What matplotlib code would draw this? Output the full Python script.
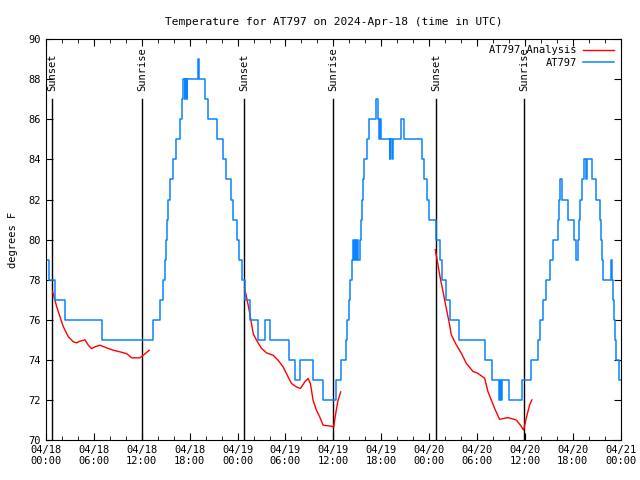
import matplotlib
matplotlib.use('Agg')
import matplotlib.pyplot as plt
import matplotlib.dates as mdates
import pandas as pd

start = pd.Timestamp('2024-04-18 00:00')

# observed temperature (hours since start, degrees F), steps at change points
obs_hours = [0.0, 0.4, 1.1, 2.4, 7.0, 13.4, 14.3, 14.7, 14.9, 15.0, 15.1, 15.3, 15.5,
             15.9, 16.3, 16.8, 17.0, 17.2, 17.35, 17.45, 17.6, 17.7, 19.0, 19.2, 19.9,
             20.3, 21.4, 22.2, 22.5, 23.2, 23.4, 23.9, 24.15, 24.6, 24.9,
             25.6, 26.5, 27.4, 28.1, 30.5, 31.2, 31.8, 33.4, 34.7, 36.3, 37.0, 37.55,
             37.7, 37.9, 38.1, 38.35, 38.5, 38.6, 38.75, 38.85, 39.0, 39.1, 39.35, 39.5,
             39.6, 39.7, 39.85, 40.25, 40.45, 41.35, 41.55, 41.7, 41.85, 42.0, 43.05,
             43.15, 43.3, 43.45, 44.5, 44.9, 47.1, 47.4, 47.75, 48.0, 48.8,
             49.3, 49.65, 50.05, 50.6, 51.7, 55.0, 55.9, 56.8, 56.9, 57.0, 57.1, 58.0,
             59.65, 60.7, 61.6, 61.9, 62.3, 62.65, 63.1, 63.5, 64.1, 64.3, 64.45, 64.65,
             65.35, 66.1, 66.4, 66.6, 66.8, 66.95, 67.1, 67.35, 67.65, 67.75, 68.4, 68.9,
             69.45, 69.55, 69.65, 69.75, 70.8, 70.9, 71.0, 71.15, 71.3, 71.45, 71.75, 72.0]
obs_temps = [79, 78, 77, 76, 75, 76, 77, 78, 79, 80, 81, 82, 83,
             84, 85, 86, 87, 88, 87, 88, 87, 88, 89, 88, 87,
             86, 85, 84, 83, 82, 81, 80, 79, 78, 77,
             76, 75, 76, 75, 74, 73, 74, 73, 72, 73, 74, 75,
             76, 77, 78, 79, 80, 79, 80, 79, 80, 79, 80, 81,
             82, 83, 84, 85, 86, 87, 86, 85, 86, 85, 84,
             85, 84, 85, 86, 85, 84, 83, 82, 81, 80,
             79, 78, 77, 76, 75, 74, 73, 72, 73, 72, 73, 72,
             73, 74, 75, 76, 77, 78, 79, 80, 81, 82, 83, 82,
             81, 80, 79, 80, 81, 82, 83, 84, 83, 84, 83, 82,
             81, 80, 79, 78, 79, 78, 77, 76, 75, 74, 73, 73]

# analysis curve, one piece per night
ana_hours = [
    [0.83, 1.34, 1.75, 2.17, 2.8, 3.42, 3.84, 4.25, 4.88, 5.3, 5.72, 6.13, 6.76,
     7.59, 8.43, 9.26, 10.1, 10.72, 11.76, 12.18, 12.93],
    [24.85, 25.11, 25.45, 25.74, 25.95, 26.37, 27.0, 27.62, 28.46, 29.08, 29.7,
     30.33, 30.75, 31.37, 31.87, 32.42, 32.83, 33.12, 33.46, 33.88, 34.29, 34.71,
     35.75, 36.04, 36.29, 36.58, 36.92],
    [48.77, 49.1, 49.39, 49.73, 50.14, 50.56, 50.77, 51.4, 52.03, 52.65, 53.49,
     54.11, 54.95, 55.36, 55.78, 56.2, 56.82, 57.87, 58.91, 59.41, 59.83, 60.16,
     60.58, 60.87],
]
ana_temps = [
    [77.4, 76.65, 76.15, 75.65, 75.15, 74.9, 74.85, 74.93, 75.0, 74.73, 74.56,
     74.65, 74.73, 74.6, 74.48, 74.4, 74.31, 74.1, 74.1, 74.23, 74.48],
    [77.6, 77.15, 76.48, 75.82, 75.32, 74.98, 74.57, 74.35, 74.23, 73.98, 73.65,
     73.15, 72.82, 72.65, 72.57, 72.9, 73.07, 72.82, 71.98, 71.48, 71.15, 70.74,
     70.69, 70.65, 71.32, 71.98, 72.4],
    [79.5, 78.75, 78.08, 77.42, 76.58, 75.75, 75.25, 74.75, 74.33, 73.83, 73.42,
     73.33, 73.08, 72.42, 72.0, 71.58, 71.03, 71.12, 71.0, 70.75, 70.5, 71.08,
     71.75, 72.0],
]

sun_hours = [0.8, 12.0, 24.8, 36.0, 48.85, 59.9]
sun_labels = ['Sunset', 'Sunrise', 'Sunset', 'Sunrise', 'Sunset', 'Sunrise']


def to_time(hours):
    return [start + pd.Timedelta(hours=h) for h in hours]


plt.rcParams['font.family'] = 'DejaVu Sans Mono'
fig = plt.figure(figsize=(6.4, 4.8), dpi=100)
ax = fig.add_axes([0.0719, 0.0833, 0.898, 0.835])

# sunrise / sunset markers
for h, lab in zip(sun_hours, sun_labels):
    t = start + pd.Timedelta(hours=h)
    ax.plot([t, t], [70, 87], color='black', lw=1)
    ax.text(t, 87.4, lab, rotation=90, ha='center', va='bottom', fontsize=7.5)

for i, (hh, tt) in enumerate(zip(ana_hours, ana_temps)):
    ax.plot(to_time(hh), tt, color='red', lw=1,
            label='AT797 Analysis' if i == 0 else None)
ax.plot(to_time(obs_hours), obs_temps, color='#0a84ff', lw=1.1,
        drawstyle='steps-post', label='AT797')

ax.set_xlim(start, start + pd.Timedelta(hours=72))
ax.set_ylim(70, 90)
ax.set_yticks(range(70, 91, 2))
ax.xaxis.set_major_locator(mdates.HourLocator(byhour=range(0, 24, 6)))
ax.xaxis.set_minor_locator(mdates.HourLocator(interval=2))
ax.xaxis.set_major_formatter(mdates.DateFormatter('%m/%d\n%H:%M'))
ax.tick_params(which='both', direction='in', top=True, right=True, labelsize=7.5)
ax.tick_params(which='major', length=5)
ax.tick_params(which='minor', length=3)
ax.set_ylabel('degrees F', fontsize=7.5, labelpad=8)
ax.set_title('Temperature for AT797 on 2024-Apr-18 (time in UTC)', fontsize=8, pad=10)

ax.legend(loc='upper right', frameon=False, markerfirst=False, fontsize=7.5,
          handlelength=3.0, handletextpad=0.6, borderaxespad=0.2, labelspacing=0.25)

fig.savefig('out.png', dpi=100)
